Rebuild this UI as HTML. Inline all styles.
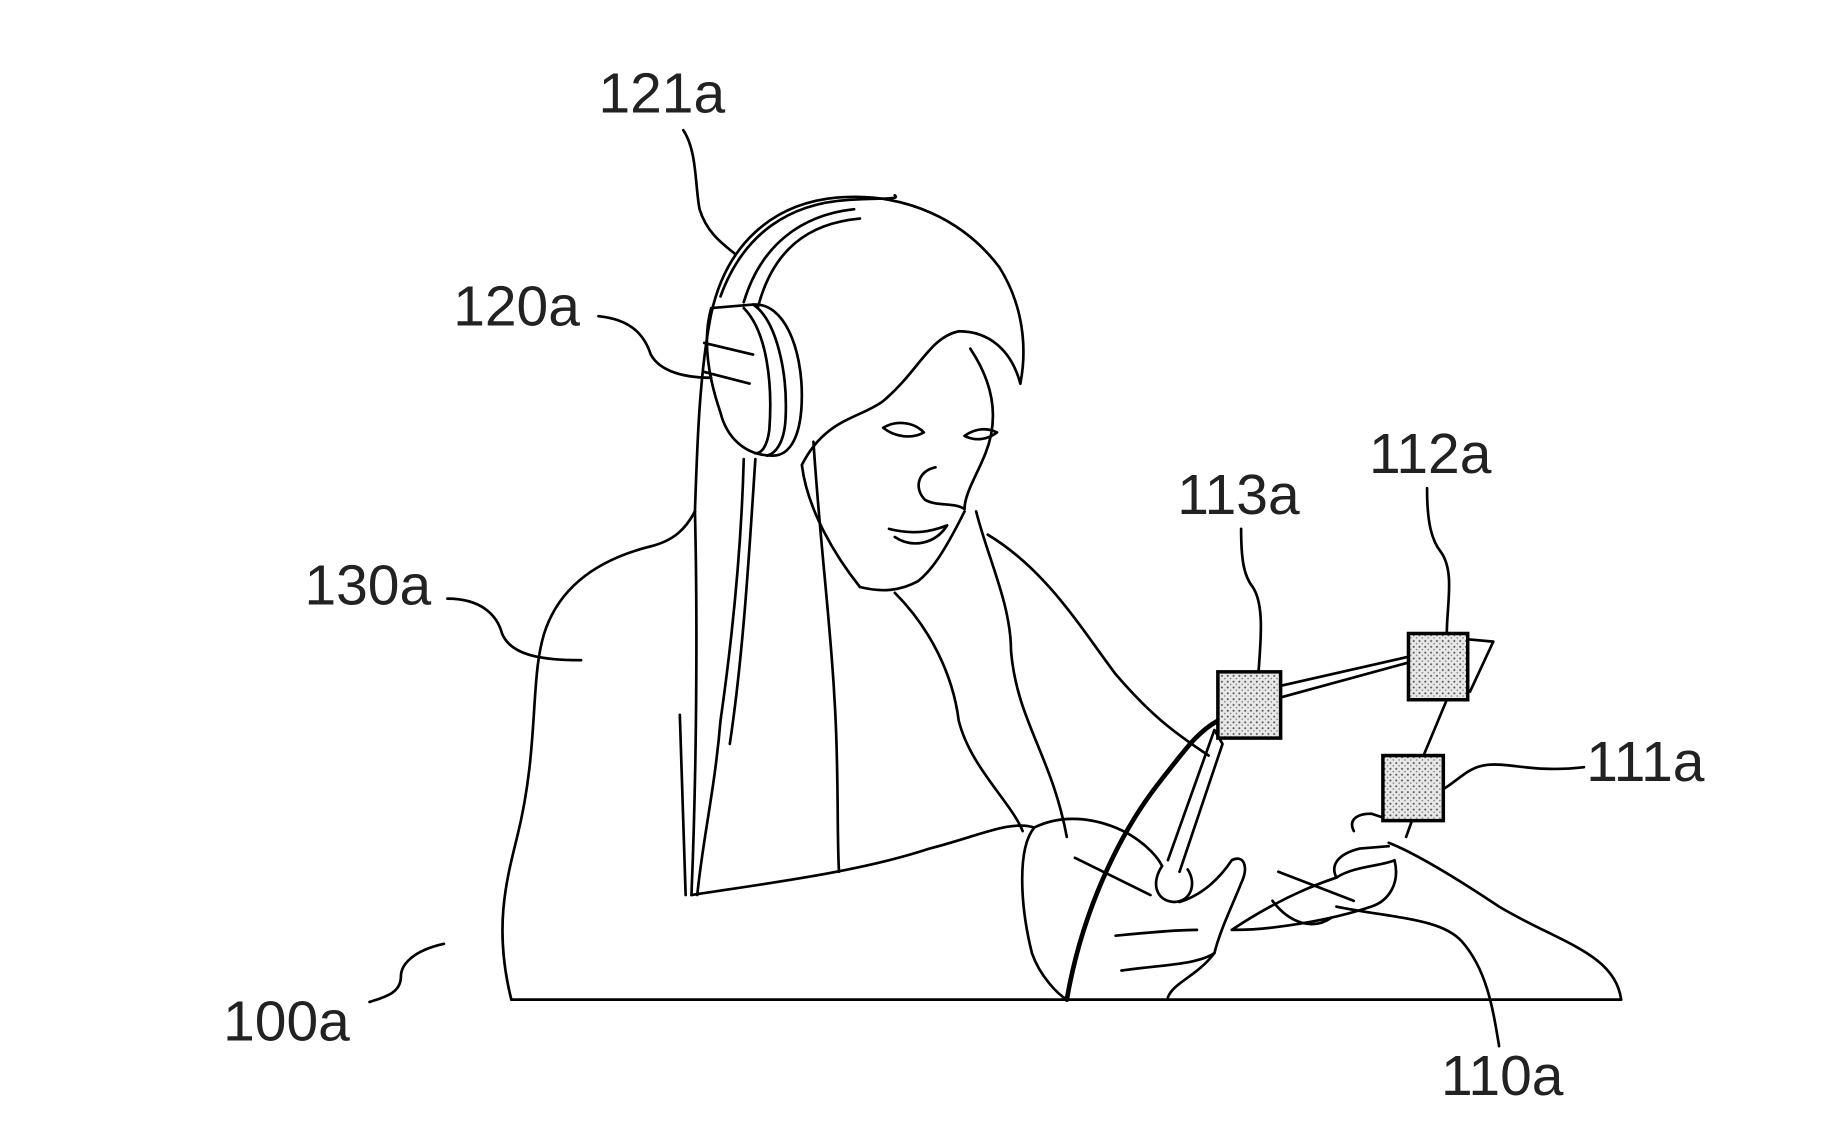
<!DOCTYPE html>
<html><head><style>
html,body{margin:0;padding:0;background:#fff;}
svg{display:block;}
text{font-family:"Liberation Sans",sans-serif;font-size:49px;fill:#222;}
</style></head><body>
<svg width="1821" height="1124" viewBox="0 0 1567 967" preserveAspectRatio="none" xmlns="http://www.w3.org/2000/svg">
<defs>
<pattern id="dots" width="5" height="5" patternUnits="userSpaceOnUse">
<rect width="5" height="5" fill="#e8e8e8"/><circle cx="1.5" cy="1.5" r="0.9" fill="#555"/><circle cx="4" cy="3.8" r="0.7" fill="#777"/>
</pattern>
</defs>
<g fill="none" stroke="#000" stroke-width="2.3" stroke-linecap="round" stroke-linejoin="round">
<path d="M440 860 L1395 860"/>
<path d="M588 112 C600 130 598 160 602 180 C608 200 622 210 632 218"/>
<path d="M515 272 C545 275 555 290 560 305 C568 320 590 325 612 325"/>
<path d="M385 515 C415 515 428 530 432 545 C440 565 470 568 500 568"/>
<path d="M382 812 C355 818 345 830 345 840 C345 855 330 858 318 862"/>
<path d="M1068 455 C1068 480 1070 495 1078 505 C1088 520 1085 550 1083 578"/>
<path d="M1228 420 C1228 450 1232 465 1240 475 C1252 492 1245 520 1245 545"/>
<path d="M1240 680 C1255 672 1262 660 1280 658 C1300 656 1320 665 1363 660"/>
<path d="M1150 780 C1200 790 1240 790 1258 810 C1280 835 1285 870 1290 900"/>
<path d="M440 860 C425 800 435 760 445 720 C465 640 455 580 470 540 C485 500 520 480 560 470 C580 465 590 455 598 440"/>
<path d="M598 440 C600 380 602 320 612 270 C625 210 665 175 720 170 C780 165 830 190 860 230 C885 270 882 310 878 330"/>
<path d="M620 255 C640 200 680 175 730 172 C760 170 775 172 770 168"/>
<path d="M640 260 C655 210 690 185 735 180"/>
<path d="M652 265 C665 215 695 192 740 188"/>
<path d="M612 265 L648 262 C675 260 690 300 690 340 C690 375 680 392 665 392 C640 392 625 375 620 355 C608 320 605 290 612 265 Z"/>
<path d="M648 262 C668 275 678 320 676 360 C675 380 668 390 660 392"/>
<path d="M640 265 C660 285 665 330 662 370 C660 385 655 390 650 390"/>
<path d="M606 295 L648 305"/>
<path d="M606 320 L645 330"/>
<path d="M640 395 C638 470 630 550 620 620 C615 680 605 720 600 770"/>
<path d="M650 395 C645 470 640 560 628 640"/>
<path d="M585 615 L590 770"/>
<path d="M598 440 C600 520 600 650 595 770"/>
<path d="M878 330 C870 300 850 285 825 285 C800 290 790 320 760 345 C740 360 710 360 690 400 C695 440 720 480 740 505"/>
<path d="M700 380 C705 460 715 540 718 600 C722 660 720 720 722 750"/>
<path d="M740 505 C760 510 775 508 790 500 C800 492 810 480 830 440"/>
<path d="M835 300 C855 330 860 360 848 390 C840 410 830 425 830 438 C822 432 806 436 796 430 C786 420 790 405 805 402"/>
<path d="M765 455 C785 460 800 458 815 452 C805 468 785 472 770 462"/>
<path d="M760 368 C770 362 785 362 795 372 C785 378 770 376 760 368 Z"/>
<path d="M830 375 C840 368 850 368 858 372 C850 378 840 380 830 375 Z"/>
<path d="M770 510 C800 540 820 580 825 620 C835 660 870 690 880 715"/>
<path d="M840 440 C850 480 870 520 870 560 C875 620 905 650 918 720"/>
<path d="M850 460 C900 490 930 540 960 580 C990 615 1010 630 1040 650"/>
<path d="M595 770 C660 760 740 750 800 730 C840 720 870 705 890 712"/>
<path d="M890 712 C875 730 878 780 888 820 C895 840 910 855 918 860"/>
<path d="M890 712 C910 702 935 702 960 712 C980 720 995 735 1000 745"/>
<path d="M925 738 L990 770"/>
<path d="M918 860 C930 790 960 720 1000 670 C1020 645 1030 630 1048 620" stroke-width="4"/>
<path d="M1005 740 L1045 628 L1052 640 L1015 750"/>
<path d="M1000 745 C990 760 995 775 1010 776 C1025 776 1030 760 1022 748"/>
<path d="M1015 776 C1035 770 1050 755 1060 740 C1070 735 1075 745 1068 760 C1060 780 1050 800 1045 820 C1030 830 1000 830 965 835"/>
<path d="M1045 820 C1030 840 1010 845 1005 858"/>
<path d="M960 805 C980 803 1010 800 1030 800"/>
<path d="M1060 800 C1090 780 1120 765 1150 755 C1165 745 1190 745 1200 740 C1205 760 1195 775 1180 780 C1150 790 1120 795 1095 798 C1080 800 1065 800 1060 800"/>
<path d="M1150 755 C1145 745 1150 735 1170 730 L1195 728"/>
<path d="M1165 715 C1160 705 1168 700 1180 700 L1195 705"/>
<path d="M1195 725 C1220 735 1260 760 1290 780 C1340 810 1390 820 1395 860"/>
<path d="M1100 750 L1165 775"/>
<path d="M1095 775 C1110 795 1130 800 1145 790"/>
<path d="M1102 590 L1212 565"/>
<path d="M1102 600 L1212 570"/>
<path d="M1263 550 L1285 552 L1265 595"/>
<path d="M1245 602 L1225 650"/>
<path d="M1215 706 L1210 720"/>
</g>
<g stroke="#000" stroke-width="3">
<rect x="1048" y="578" width="54" height="57" fill="url(#dots)"/>
<rect x="1212" y="545" width="51" height="57" fill="url(#dots)"/>
<rect x="1190" y="650" width="52" height="56" fill="url(#dots)"/>
</g>
<text x="515" y="97">121a</text>
<text x="390" y="280">120a</text>
<text x="262" y="520">130a</text>
<text x="192" y="895">100a</text>
<text x="1013" y="442">113a</text>
<text x="1178" y="407">112a</text>
<text x="1365" y="672">111a</text>
<text x="1240" y="942">110a</text>
</svg>
</body></html>
